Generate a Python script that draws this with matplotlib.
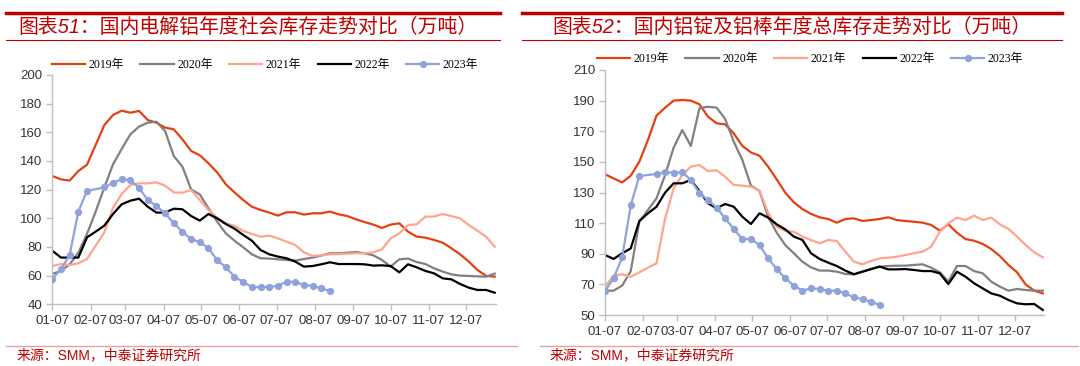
import numpy as np
import matplotlib
matplotlib.use("Agg")
import matplotlib.pyplot as plt
from matplotlib.lines import Line2D

plt.rcParams['font.family'] = ['Liberation Sans', 'Noto Sans CJK SC']

# weekly data, week 0 = 01-07
# 图表51 电解铝社会库存
al_2019 = [129.5, 127.2, 126.3, 133, 137.4, 151.2, 165.1, 172.1, 175.1, 173.7, 174.9, 168.6, 166.7,
           163.3, 162.1, 155.1, 147, 144, 138.4, 132.1, 123.7, 118.1, 112.8, 108.1, 105.8, 104,
           101.9, 104.2, 104.2, 102.6, 103.5, 103.5, 104.7, 102.8, 101.6, 99.3, 97.4, 95.6, 93.3,
           95.6, 96.5, 90.7, 87.2, 86.5, 84.9, 83, 79.1, 74.9, 69.8, 64, 59.8, 59.3]
al_2020 = [61.2, 63.3, 67.9, 76, 89.1, 104.7, 121.6, 137.7, 148.4, 158.6, 164, 166.7, 167.4,
           160.9, 143.5, 136, 120.2, 116.7, 107, 97.7, 89.5, 84.4, 79.8, 74.9, 72.1, 71.9,
           71.4, 70.9, 70.5, 71.6, 72.6, 74, 75.6, 75.6, 76, 76.5, 75.6, 74.2, 70.9,
           66.3, 71.4, 71.9, 69.5, 68.1, 65.1, 62.8, 60.9, 60, 59.8, 59.5, 59.3, 61.4]
al_2021 = [66.7, 68.1, 67.4, 68.6, 71.6, 80.9, 90.2, 107.4, 117, 123.3, 124.4, 124.4, 125.1,
           122.8, 118.1, 117.9, 119.8, 112.8, 105.8, 100.5, 96.5, 94.7, 91.2, 89.1, 87.2, 87.9,
           86, 83.7, 81.4, 76.3, 73.7, 74.2, 74.9, 75.1, 75.3, 75.6, 75.6, 76.3, 78.4,
           86, 89.5, 95.3, 95.8, 101.2, 101.2, 103, 101.6, 100, 95.3, 91.4, 87.2, 80.2]
al_2022 = [77.4, 72.6, 72.6, 72.6, 86.7, 90.7, 94.9, 103, 109.8, 112.3, 113.7, 108.1, 104,
           104, 106.7, 106.3, 101.6, 98.4, 103, 100, 96, 92.8, 88.4, 84.4, 77.9, 74.9,
           73.3, 72.1, 69.8, 66.3, 66.7, 67.9, 69.3, 68.1, 68.1, 68.1, 67.9, 67, 67.2,
           66.7, 62.3, 67.9, 65.8, 63.3, 61.6, 58.1, 57.4, 54.2, 51.6, 50, 50, 48.1]
al_2023 = [57.7, 64.4, 74.4, 104.7, 119.1, None, 121.6, 124.9, 127.2, 126.7, 121.2, 112.8, 108.6,
           103.5, 96.5, 90.7, 85.3, 83.5, 79.1, 70.9, 65.8, 59.3, 55.6, 52.1, 51.9, 52.3,
           52.8, 55.8, 55.6, 53.5, 52.8, 51.2, 49.3]

# 图表52 铝锭及铝棒总库存
tot_2019 = [141.9, 139.2, 136.6, 141, 150.1, 164.3, 180.2, 185.4, 190, 190.4, 190, 187.6, 179.5,
            175.2, 174.5, 168.6, 160.4, 156.2, 154, 146.9, 138.6, 129.9, 123.6, 119.2, 116, 113.8,
            112.7, 110.3, 112.7, 113.1, 111.4, 112, 112.7, 113.8, 112, 111.4, 110.9, 110.3, 108.8,
            105.1, 109.2, 103.8, 99.6, 98.5, 96.4, 93.1, 88.5, 82.7, 77.9, 70, 65.9, 64.1]
tot_2020 = [65.9, 65.9, 69.2, 78.7, 110.9, 118.6, 126.2, 141.4, 159.3, 170.8, 160.4, 185, 186,
            185.4, 178, 163.2, 151.2, 134.5, 131, 114.2, 103.8, 95.7, 90.3, 84.8, 81.1, 79,
            79, 78.3, 76.8, 76.6, 78.3, 80, 81.6, 82, 82.2, 82.2, 82.7, 83.1, 80.9,
            77.9, 71.8, 82, 82, 78.7, 77.2, 71.8, 68.5, 65.9, 67, 66.3, 65.9, 65.9]
tot_2021 = [68.5, 75.7, 76.6, 75, 77.9, 80.9, 83.7, 113.1, 132.7, 141.4, 146.9, 148, 144,
            144.5, 140.3, 134.9, 134.5, 133.8, 131.2, 116.8, 107.7, 104.9, 104.4, 101.2, 99, 96.8,
            99, 98.3, 91.4, 84.8, 83.1, 85.3, 87, 87.4, 88.1, 89.2, 90.3, 91.4, 94.6,
            104.4, 109.9, 113.6, 112, 114.9, 112, 113.6, 109.2, 106.2, 101.2, 95.7, 90.9, 87.7]
tot_2022 = [89.2, 86.6, 90.3, 93.5, 111.4, 116.4, 120.7, 129.9, 136, 136, 138.2, 131, 122.9,
            119.7, 122.5, 120.7, 114.2, 109.4, 116.4, 113.6, 109.2, 105.9, 101.2, 99, 90.3, 86.6,
            84.2, 82, 79, 76.6, 78.3, 80, 81.6, 79.8, 79.8, 80, 79.4, 78.7, 78.7,
            77.2, 70.2, 78.3, 75, 70.7, 67.4, 64.1, 62.6, 59.8, 57.6, 57, 57.2, 53.3]
tot_2023 = [65.7, 73.9, 87.7, 121.6, 140.8, None, 142.1, 143.2, 143, 143.2, 138.2, 129.5, 125.1,
            120.1, 113.1, 106.2, 99.6, 99.6, 95.7, 87, 80, 73.9, 69.2, 65.9, 67.4, 67,
            65.9, 65.9, 64.1, 61.5, 60.4, 58.7, 56.5]

years = ["2019年", "2020年", "2021年", "2022年", "2023年"]
colors = ["#E5400F", "#808080", "#FFA48E", "#000000", "#8FA2DB"]
tick_days = [0, 31, 59, 90, 120, 151, 181, 212, 243, 273, 304, 334]
tick_labels = ["01-07", "02-07", "03-07", "04-07", "05-07", "06-07",
               "07-07", "08-07", "09-07", "10-07", "11-07", "12-07"]

W, H = 1080, 366
fig = plt.figure(figsize=(W / 100, H / 100), dpi=100)
red = "#C00000"


def draw(rect, series, ylim, yticks):
    ax = fig.add_axes(rect)
    for vals, c, lab in zip(series, colors, years):
        d = [(7 * i, v) for i, v in enumerate(vals) if v is not None]
        xs = [p[0] for p in d]
        ys = [p[1] for p in d]
        if lab == "2023年":
            ax.plot(xs, ys, color=c, lw=1.6, marker="o", ms=4.2, label=lab, zorder=5)
        else:
            ax.plot(xs, ys, color=c, lw=1.6, label=lab)
    ax.set_xlim(0, 358)
    ax.set_ylim(*ylim)
    ax.set_yticks(yticks)
    ax.set_xticks(tick_days)
    ax.set_xticklabels(tick_labels)
    for s in ["top", "right"]:
        ax.spines[s].set_visible(False)
    for s in ["left", "bottom"]:
        ax.spines[s].set_color("#BFBFBF")
        ax.spines[s].set_linewidth(1)
    ax.tick_params(direction="out", length=4, width=1, color="#BFBFBF",
                   labelsize=9.5, labelcolor="#333333", pad=3)
    ax.tick_params(axis="x", pad=4)
    return ax


ax1 = draw([52.3 / W, 1 - 304.3 / H, 443.7 / W, 229.3 / H],
           [al_2019, al_2020, al_2021, al_2022, al_2023], (40, 200), range(40, 201, 20))
ax2 = draw([605 / W, 1 - 315 / H, 439 / W, 245 / H],
           [tot_2019, tot_2020, tot_2021, tot_2022, tot_2023], (50, 210), range(50, 211, 20))

for ax, cx, cy in [(ax1, 265, 65), (ax2, 810, 59)]:
    h, l = ax.get_legend_handles_labels()
    fig.legend(h, l, loc="center", bbox_to_anchor=(cx / W, 1 - cy / H), ncol=5,
               frameon=False, handlelength=2.8, columnspacing=1.4, handletextpad=0.3,
               prop={"family": ["Liberation Serif", "Noto Sans CJK SC"], "size": 8.5})

# 标题、分隔线、来源
for x0, x1, tx, title in [(6, 500, 18, "图表51：国内电解铝年度社会库存走势对比（万吨）"),
                          (522, 1062, 552, "图表52：国内铝锭及铝棒年度总库存走势对比（万吨）")]:
    fig.add_artist(Line2D([x0 / W, x1 / W], [1 - 13 / H] * 2, color=red, lw=2.5))
    fig.add_artist(Line2D([x0 / W, x1 / W], [1 - 40 / H] * 2, color=red, lw=0.8))
    fig.text(tx / W, 1 - 27 / H, title, color=red, fontsize=14.3, va="center",
             style="italic", weight="medium",
             family=["Liberation Sans", "Noto Sans CJK SC"])

fig.add_artist(Line2D([6 / W, 517 / W], [1 - 345.5 / H] * 2, color="#E8A0A0", lw=1))
fig.add_artist(Line2D([540 / W, 1078 / W], [1 - 345.5 / H] * 2, color="#E8A0A0", lw=1))
fig.text(17 / W, 1 - 355 / H, "来源：SMM，中泰证券研究所", color=red, fontsize=10, va="center")
fig.text(550 / W, 1 - 355 / H, "来源：SMM，中泰证券研究所", color=red, fontsize=10, va="center")

fig.savefig("out.png", dpi=100)
